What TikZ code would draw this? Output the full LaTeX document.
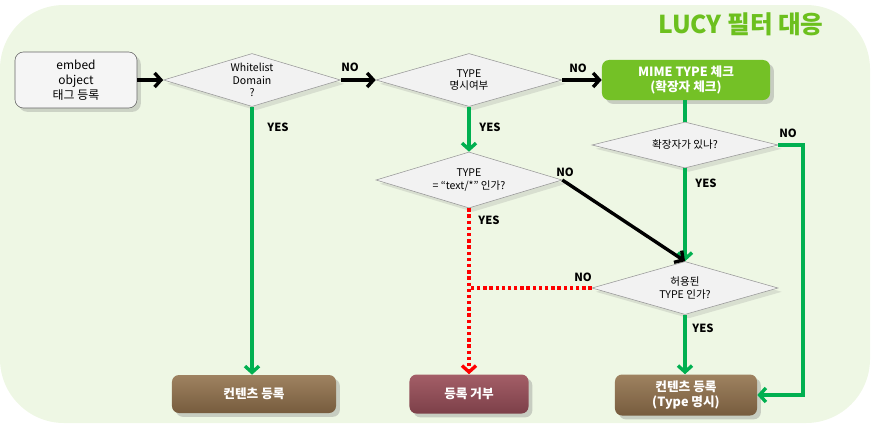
\documentclass[tikz,border=0pt]{standalone}
\usepackage{fontspec}
\setmainfont{Noto Sans CJK KR}
\usetikzlibrary{shapes.geometric, arrows.meta, shadows}
\definecolor{bggreen}{HTML}{EEF7E4}
\definecolor{linegreen}{HTML}{00B050}
\definecolor{boxgreen}{HTML}{74C126}
\definecolor{titlegreen}{HTML}{6CC01E}
\definecolor{browntop}{HTML}{9E8260}
\definecolor{brownbot}{HTML}{775C3E}
\definecolor{redtop}{HTML}{A45E67}
\definecolor{redbot}{HTML}{7C4049}

\begin{document}
\begin{tikzpicture}[x=0.025cm, y=-0.025cm, font=\fontsize{7.5}{9}\selectfont,
        decision/.style = {diamond, aspect=3.5, draw=gray!80, fill=gray!10, inner sep=0pt, align=center,
            minimum width=4.65cm, minimum height=1.325cm, drop shadow={opacity=0.2}},
        startbox/.style = {rectangle, rounded corners=6pt, draw=gray!80!black, fill=gray!8,
            align=center, font=\fontsize{8.5}{10.5}\selectfont, drop shadow={opacity=0.3}},
        endbox/.style = {rectangle, rounded corners=5pt, align=center, text=white,
            font=\bfseries\fontsize{9}{11}\selectfont, drop shadow={opacity=0.35}},
        lbl/.style = {font=\bfseries\fontsize{8}{9}\selectfont},
        arr/.style = {line width=2.4pt, -{Straight Barb[length=4.5pt,width=10pt]}},
        garr/.style = {arr, linegreen},
        gline/.style = {line width=2.4pt, linegreen},
        rdot/.style = {line width=2.4pt, red, dash pattern=on 2.4pt off 2pt}]

        \useasboundingbox (0,0) rectangle (892,429);
        \fill[bggreen, rounded corners=1.6cm] (0,5) rectangle (870,423);
        \node[font=\bfseries\fontsize{17.5}{19}\selectfont, text=titlegreen] (title) at (741,24) {LUCY 필터 대응};

        % first row
        \node[startbox, minimum width=3.05cm, minimum height=1.4cm] (embed) at (76,80) {embed\\object\\태그 등록};
        \node[decision, minimum width=4.425cm] (white) at (252,80) {Whitelist\\Domain\\?};
        \node[decision] (typedef) at (469,80) {TYPE\\명시여부};
        \node[endbox, fill=boxgreen, minimum width=4.2cm, minimum height=1cm] (mime) at (686,80) {MIME TYPE 체크\\(확장자 체크)};

        % middle
        \node[decision, minimum height=1.4cm] (texttype) at (469,180) {TYPE\\= “text/*” 인가?};
        \node[decision, minimum height=1.15cm] (ext) at (685,145) {확장자가 있나?};
        \node[decision] (allowed) at (685,288) {허용된\\TYPE 인가?};

        % results
        \node[endbox, top color=browntop, bottom color=brownbot, minimum width=4.1cm, minimum height=0.95cm] (content) at (254,394) {컨텐츠 등록};
        \node[endbox, top color=redtop, bottom color=redbot, minimum width=2.975cm, minimum height=0.975cm] (reject) at (469,394) {등록 거부};
        \node[endbox, top color=browntop, bottom color=brownbot, minimum width=3.55cm, minimum height=1.025cm] (final) at (686,395) {컨텐츠 등록\\(Type 명시)};

        \coordinate (extno) at (803,145);

        \draw[arr] (embed) -- (white.west);
        \draw[arr] (white.east) -- (typedef.west);
        \draw[arr] (typedef.east) -- (mime.west);
        \draw[gline] (mime.south -| ext.north) -- (ext.north);
        \draw[garr] (white.south) -- (white.south |- content.north);
        \draw[garr] (typedef.south) -- (texttype.north);
        \draw[garr] (ext.south) -- (allowed.north);
        \draw[garr] (ext.east) -- (extno) |- (final.east);
        \draw[arr] (texttype.east) -- (allowed.north);
        \draw[rdot] (allowed.west) -- (allowed.west -| texttype.south);
        \draw[rdot, -{Straight Barb[length=4.5pt,width=10pt]}] (texttype.south) -- (reject.north);
        \draw[garr] (allowed.south) -- (allowed.south |- final.north);

        \node[lbl] (no1) at (350,67) {NO};
        \node[lbl] (no2) at (578,68) {NO};
        \node[lbl] (yes1) at (278,127) {YES};
        \node[lbl] (yes2) at (490,127) {YES};
        \node[lbl] (no3) at (788,133) {NO};
        \node[lbl] (yes3) at (706,183) {YES};
        \node[lbl] (no4) at (565,172) {NO};
        \node[lbl] (yes4) at (489,220) {YES};
        \node[lbl] (no5) at (583,277) {NO};
        \node[lbl] (yes5) at (703,328) {YES};
    \end{tikzpicture}
\end{document}
